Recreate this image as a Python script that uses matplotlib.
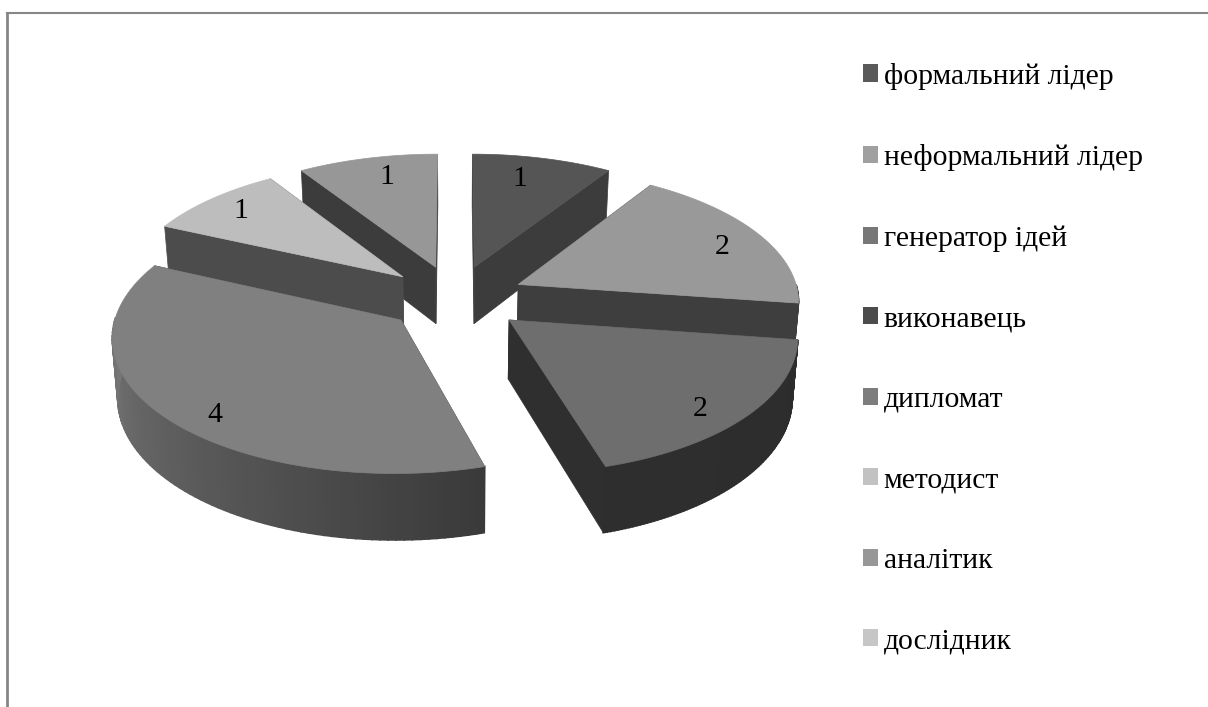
import numpy as np
import matplotlib
matplotlib.use("Agg")
import matplotlib.pyplot as plt
from matplotlib.patches import Polygon, Patch
from matplotlib.lines import Line2D

categories = ["формальний лідер", "неформальний лідер", "генератор ідей", "виконавець",
              "дипломат", "методист", "аналітик", "дослідник"]
values = [1, 2, 2, 0, 4, 1, 1, 0]

top_colors = ["#555555", "#999999", "#6e6e6e", "#4a4a4a", "#808080", "#bdbdbd", "#979797", "#c4c4c4"]
legend_colors = ["#5a5a5a", "#a0a0a0", "#777777", "#4c4c4c", "#7d7d7d", "#c2c2c2", "#979797", "#c6c6c6"]
face_colors = ["#3c3c3c", "#3e3e3e", "#2f2f2f", "#333333", "#3a3a3a", "#4c4c4c", "#3c3c3c", "#444444"]
wall_dark = ["#3c3c3c", "#3e3e3e", "#2c2c2c", "#333333", "#3a3a3a", "#4c4c4c", "#3c3c3c", "#444444"]
wall_light = ["#3c3c3c", "#3e3e3e", "#303030", "#333333", "#777777", "#4c4c4c", "#3c3c3c", "#444444"]
draw_order = [6, 0, 5, 1, 4, 2]

plt.rcParams["font.family"] = ["Liberation Serif", "DejaVu Serif"]

CX, CY, RX, RY, PERSP, DEPTH, EXPLODE = 455.0, 298.0, 281.0, 131.7, 0.109, 58.0, 0.25
TAPER = 0.016
LABEL_R = 0.80
label_nudge = {0: (-10, 1), 1: (11, 4), 2: (4, 13), 4: (1, 19), 5: (-7, -3), 6: (7, -1)}


def project(x, y, z=0.0):
    s = 1.0 / (1.0 + PERSP * y)
    return CX + RX * x * s * (1 - TAPER * z), CY - RY * y * s + DEPTH * z * s


def lerp_color(a, b, t):
    ca = np.array(matplotlib.colors.to_rgb(a))
    cb = np.array(matplotlib.colors.to_rgb(b))
    return tuple(ca + (cb - ca) * t)


fig = plt.figure(figsize=(12.08, 7.07), dpi=100, facecolor="white")
ax = fig.add_axes([0, 0, 1, 1])
ax.set_xlim(0, 1208)
ax.set_ylim(707, 0)
ax.axis("off")

vals = np.array(values, dtype=float)
edges = np.concatenate([[0], np.cumsum(vals)]) / vals.sum() * 2 * np.pi

z = 2
for i in draw_order:
    a0, a1 = edges[i], edges[i + 1]
    mid = (a0 + a1) / 2
    ox, oy = EXPLODE * np.sin(mid), EXPLODE * np.cos(mid)
    th = np.linspace(a0, a1, 90)
    rim_x, rim_y = ox + np.sin(th), oy + np.cos(th)

    for ang in (a0, a1):
        ex, ey = ox + np.sin(ang), oy + np.cos(ang)
        q = [project(ox, oy), project(ex, ey), project(ex, ey, 1), project(ox, oy, 1)]
        ax.add_patch(Polygon(q, closed=True, fc=face_colors[i], ec=face_colors[i], lw=0.5, zorder=z))
        z += 1

    for k in range(len(th) - 1):
        frac = np.clip((th[k] - a0) / np.radians(106), 0, 1)
        col = lerp_color(wall_dark[i], wall_light[i], frac)
        q = [project(rim_x[k], rim_y[k]), project(rim_x[k + 1], rim_y[k + 1]),
             project(rim_x[k + 1], rim_y[k + 1], 1), project(rim_x[k], rim_y[k], 1)]
        if np.cos(th[k]) < 0:
            ax.add_patch(Polygon(q, closed=True, fc=col, ec=col, lw=1.2, zorder=z))
    z += 1

    pts = [project(ox, oy)] + [project(x, y) for x, y in zip(rim_x, rim_y)]
    ax.add_patch(Polygon(pts, closed=True, fc=top_colors[i], ec=top_colors[i], lw=0.5, zorder=z))
    z += 1

    lx, ly = project(ox + LABEL_R * np.sin(mid), oy + LABEL_R * np.cos(mid))
    dx, dy = label_nudge[i]
    ax.text(lx + dx, ly + dy, str(values[i]), ha="center", va="center", fontsize=21.5,
            color="black", zorder=100)

handles = [Patch(fc=c, ec="none") for c in legend_colors]
ax.legend(handles, categories, loc="upper left", bbox_to_anchor=(863 / 1208, 1 - 62.5 / 707),
          bbox_transform=fig.transFigure, frameon=False, fontsize=21.3, labelspacing=1.84,
          handlelength=0.51, handleheight=0.51, handletextpad=0.19, borderpad=0, borderaxespad=0,
          labelcolor="black")

ax.add_line(Line2D([7, 7], [12.5, 707], color="#868686", lw=2.0, zorder=1))
ax.add_line(Line2D([7, 1208], [12.5, 12.5], color="#868686", lw=1.5, zorder=1))

fig.savefig("out.png", dpi=100, facecolor="white")
